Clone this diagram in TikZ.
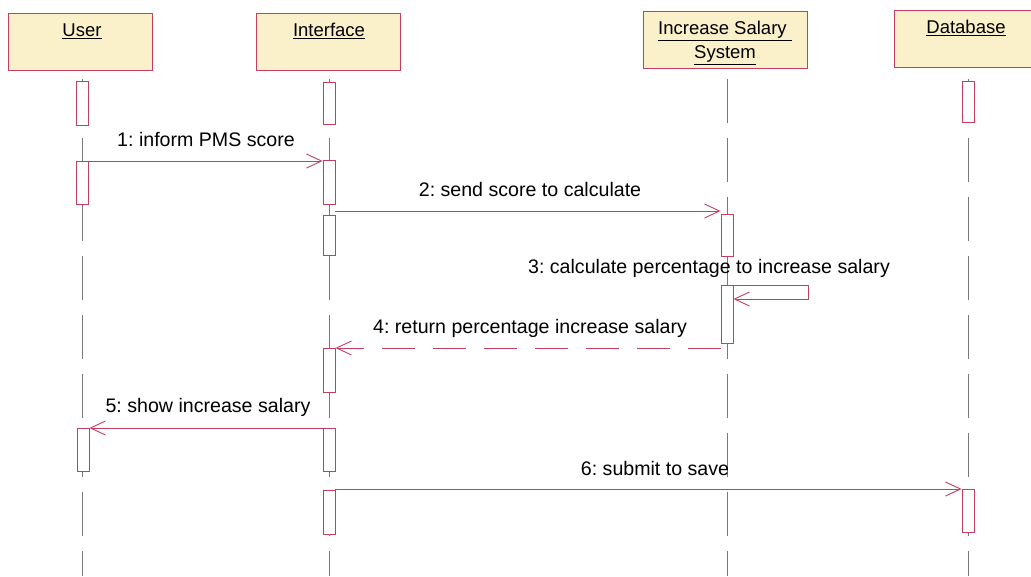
\documentclass[tikz,border=0pt]{standalone}
\usepackage{fontspec}
\setmainfont{Liberation Sans}
\usetikzlibrary{arrows.meta}
\definecolor{umlred}{RGB}{196,62,98}
\definecolor{headfill}{RGB}{250,240,202}
\definecolor{lifegray}{RGB}{120,120,120}
\frenchspacing
\begin{document}
\begin{tikzpicture}[x=1pt,y=-1pt,
  headbox/.style={draw=umlred,fill=headfill,line width=0.9pt,minimum width=#1,minimum height=57pt,inner sep=0pt,anchor=north west},
  act/.style={draw=umlred,fill=white,line width=0.9pt,minimum width=12pt,inner sep=0pt,anchor=north},
  msg/.style={draw=umlred,line width=0.9pt,-{Straight Barb[length=15pt,width=14pt,line width=0.9pt]}},
  lifeline/.style={draw=lifegray,line width=0.8pt,dash pattern=on 44pt off 15pt},
  lbl/.style={font=\fontsize{19.6}{21}\selectfont\frenchspacing,inner sep=0pt},
  htxt/.style={font=\fontsize{18.5}{24}\selectfont,inner sep=0pt,align=center}]
\useasboundingbox (0,0) rectangle (1031,576);
\fill[white] (0,0) rectangle (1031,576);
% heads
\node[headbox=144pt] (hu) at (8,13) {};
\node[headbox=144pt] (hi) at (256,13) {};
\node[headbox=164pt] (hs) at (643,11) {};
\node[headbox=137pt] (hd) at (894,10) {};
\node[htxt] at (82,31) {\underline{User}};
\node[htxt] at (329,31) {\underline{Interface}};
\node[htxt] at (725,43) {\underline{Increase Salary\ }\\\underline{System}};
\node[htxt] at (966,28) {\underline{Database}};
% lifelines
\coordinate (lu) at (82,79);
\coordinate (li) at (329,79);
\coordinate (ls) at (727,79);
\coordinate (ld) at (968,79);
\coordinate (eu) at (82,576);
\coordinate (ei) at (329,576);
\coordinate (es) at (727,576);
\coordinate (ed) at (968,576);
\draw[lifeline] (lu) -- (eu);
\draw[lifeline] (li) -- (ei);
\draw[lifeline] (ls) -- (es);
\draw[lifeline] (ld) -- (ed);
% activations
\node[act,minimum height=44pt] (u1) at (82,81) {};
\node[act,minimum height=43pt] (u2) at (82,161) {};
\node[act,minimum height=43pt] (u3) at (83,428) {};
\node[act,minimum height=42pt] (i1) at (329,82) {};
\node[act,minimum height=44pt] (i2) at (329,160) {};
\node[act,minimum height=40pt] (i3) at (329,215) {};
\node[act,minimum height=44pt] (i4) at (329,348) {};
\node[act,minimum height=43pt] (i5) at (329,428) {};
\node[act,minimum height=44pt] (i6) at (329,490) {};
\node[act,minimum height=42pt] (s1) at (727,214) {};
\node[act,minimum height=58pt] (s2) at (727,285) {};
\node[act,minimum height=41pt] (d1) at (968,81) {};
\node[act,minimum height=43pt] (d2) at (968,489) {};
% messages
\draw[msg] (u2.north east) -- (u2.north east -| i2.west);
\node[lbl] (m1) at (206,139) {1: inform PMS score};
\draw[msg] ([yshift=3pt]s1.north west -| i3.east) -- ([yshift=3pt]s1.north west);
\node[lbl] (m2) at (530,189) {2: send score to calculate};
\draw[msg] (s2.north east) -- ++(75,0) -- ++(0,14) -- ++(-75,0);
\node[lbl] (m3) at (709,268) {3: calculate percentage to increase salary};
\draw[msg,dash pattern=on 33pt off 18pt] (i4.north -| s2.west) -- (i4.north east);
\node[lbl] (m4) at (530,328) {4: return percentage increase salary};
\draw[msg] (i5.north west) -- (u3.north east);
\node[lbl] (m5) at (208,407) {5: show increase salary};
\draw[msg] (d2.north west -| i6.east) -- (d2.north west);
\node[lbl] (m6) at (655,468) {6: submit to save};
\end{tikzpicture}
\end{document}
